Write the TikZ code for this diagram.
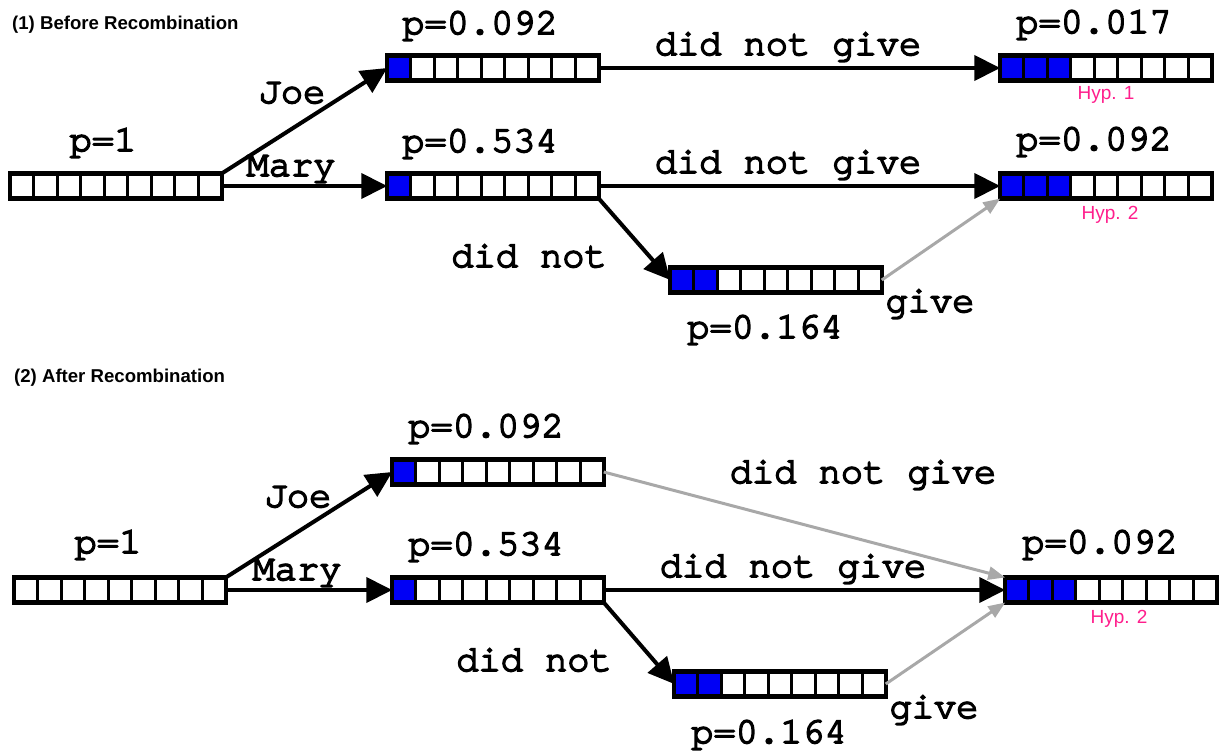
\documentclass[tikz,border=0pt]{standalone}
\usepackage{fontspec}
\setsansfont{Liberation Sans}
\newfontfamily\courierfont{texgyrecursor-regular.otf}[FakeBold=4.5]
\usetikzlibrary{arrows.meta,calc}

\definecolor{hypblue}{RGB}{0,0,245}
\definecolor{hyppink}{RGB}{255,30,140}
\definecolor{recgrey}{RGB}{168,168,168}

\newcommand{\cellw}{23.5}
% a hypothesis: 9 cells, the first #3 of them covered
\newcommand{\hypbar}[3]{%
  \node[bar] (#1) at (#2) {};
  \ifnum#3>0
    \foreach \k in {1,...,#3}
      \fill[hypblue] ($(#1.south west)+({(\k-1)*\cellw},0)$) rectangle ($(#1.north west)+({\k*\cellw},0)$);
  \fi
  \foreach \k in {1,...,8}
    \draw[line width=3.4pt] ($(#1.south west)+({\k*\cellw},0)$) -- ($(#1.north west)+({\k*\cellw},0)$);
  \draw[line width=4.4pt] (#1.south west) rectangle (#1.north east);
}

\tikzset{
  bar/.style={fill=white, minimum width=211.5pt, minimum height=25pt, inner sep=0pt, outer sep=0pt},
  lbl/.style={font=\courierfont\fontsize{37}{40}\selectfont, inner sep=0pt, anchor=base},
  hyp/.style={font=\sffamily\fontsize{19}{21}\selectfont, text=hyppink, inner sep=0pt, anchor=base},
  title/.style={font=\sffamily\bfseries\fontsize{18.6}{20}\selectfont, inner sep=0pt, anchor=base west},
  bigarrow/.style={line width=4pt, -{Triangle[length=26pt,width=25pt]}},
  greyarrow/.style={recgrey, line width=3pt, -{Triangle[length=17pt,width=13pt]}}
}

\begin{document}
\begin{tikzpicture}[x=1pt,y=-1pt]
  \useasboundingbox (0,0) rectangle (1225,751);

  % (1) before recombination
  \node[title] (t1) at (12,30) {(1) Before Recombination};
  \hypbar{a0}{116,186}{0}
  \hypbar{a1}{493,68}{1}
  \hypbar{a2}{493,186}{1}
  \hypbar{a3}{1106,68}{3}
  \hypbar{a4}{1106,186}{3}
  \hypbar{a5}{776,280}{2}

  \node[lbl] (pa0) at (103,151) {p=1};
  \node[lbl] (pa1) at (480,34) {p=0.092};
  \node[lbl] (pa2) at (480,152) {p=0.534};
  \node[lbl] (pa3) at (1094,33) {p=0.017};
  \node[lbl] (pa4) at (1094,150) {p=0.092};
  \node[lbl] (pa5) at (765,338) {p=0.164};
  \node[hyp] (h1) at (1106,100) {Hyp. 1};
  \node[hyp] (h2) at (1110,220) {Hyp. 2};

  \draw[bigarrow] (a0.north east) -- (a1.west);
  \draw[bigarrow] (a0.east) -- (a2.west);
  \draw[bigarrow] (a1.east) -- (a3.west);
  \draw[bigarrow] (a2.east) -- (a4.west);
  \draw[bigarrow] (a2.south east) -- (a5.west);
  \draw[greyarrow] (a5.east) -- (a4.south west);

  \node[lbl] (joe1) at (292,103) {Joe};
  \node[lbl] (mary1) at (291,176) {Mary};
  \node[lbl] (dng1) at (788,55) {did not give};
  \node[lbl] (dng2) at (788,173) {did not give};
  \node[lbl] (dn1) at (529,267) {did not};
  \node[lbl] (give1) at (930,312) {give};

  % (2) after recombination
  \node[title] (t2) at (14,382) {(2) After Recombination};
  \hypbar{b0}{120,590}{0}
  \hypbar{b1}{498,472}{1}
  \hypbar{b2}{498,590}{1}
  \hypbar{b4}{1111,590}{3}
  \hypbar{b5}{780,684}{2}

  \node[lbl] (pb0) at (108,553) {p=1};
  \node[lbl] (pb1) at (486,437) {p=0.092};
  \node[lbl] (pb2) at (486,555) {p=0.534};
  \node[lbl] (pb4) at (1100,553) {p=0.092};
  \node[lbl] (pb5) at (769,743) {p=0.164};
  \node[hyp] (h3) at (1119,623) {Hyp. 2};

  \draw[bigarrow] (b0.north east) -- (b1.west);
  \draw[bigarrow] (b0.east) -- (b2.west);
  \draw[bigarrow] (b2.east) -- (b4.west);
  \draw[bigarrow] (b2.south east) -- (b5.west);
  \draw[greyarrow] (b1.east) -- (b4.north west);
  \draw[greyarrow] (b5.east) -- (b4.south west);

  \node[lbl] (joe2) at (298,507) {Joe};
  \node[lbl] (mary2) at (297,580) {Mary};
  \node[lbl] (dng3) at (863,483) {did not give};
  \node[lbl] (dng4) at (793,577) {did not give};
  \node[lbl] (dn2) at (534,671) {did not};
  \node[lbl] (give2) at (934,718) {give};
\end{tikzpicture}
\end{document}
